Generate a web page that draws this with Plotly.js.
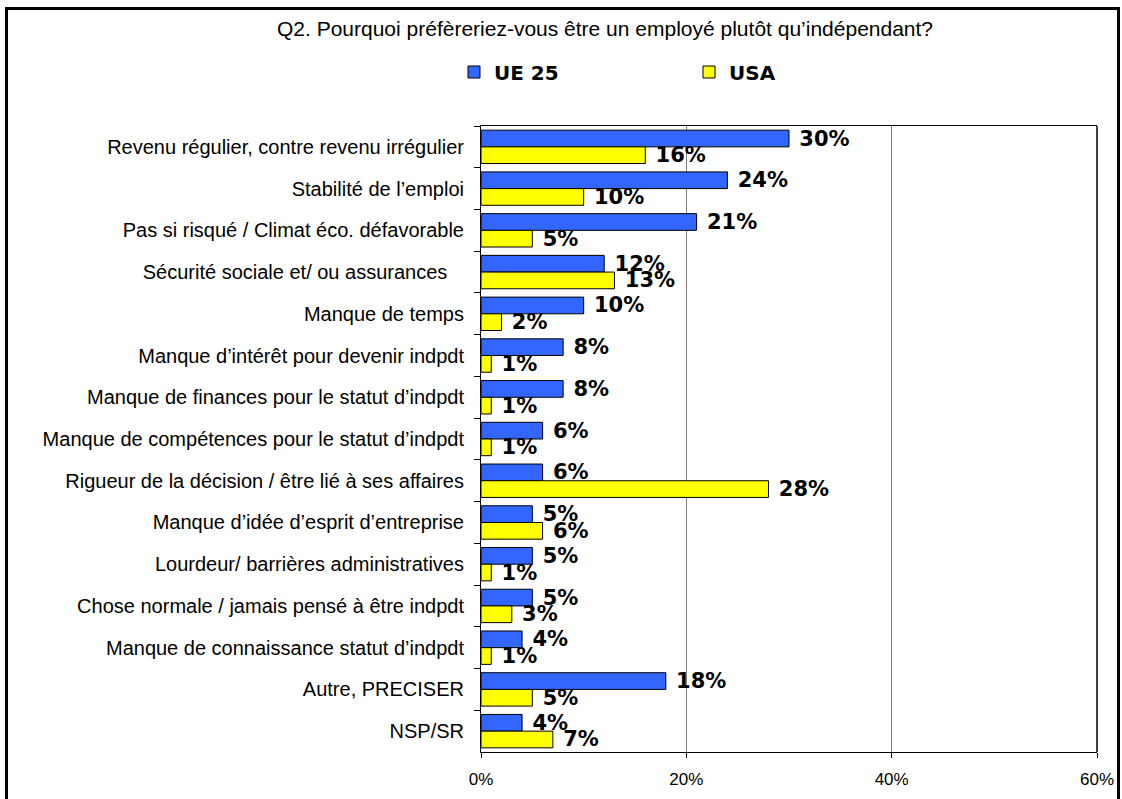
<!DOCTYPE html>
<html>
<head>
<meta charset="utf-8">
<script src="https://cdn.plot.ly/plotly-3.0.1.min.js"></script>
<style>
  html, body { margin: 0; padding: 0; background: #ffffff; }
  #chart { width: 1122px; height: 799px; }
</style>
</head>
<body>
<div id="chart"></div>
<script>
const categories = [
  "Revenu régulier, contre revenu irrégulier",
  "Stabilité de l’emploi",
  "Pas si risqué / Climat éco. défavorable",
  "Sécurité sociale et/ ou assurances\u00a0\u00a0\u00a0",
  "Manque de temps",
  "Manque d’intérêt pour devenir indpdt",
  "Manque de finances pour le statut d’indpdt",
  "Manque de compétences pour le statut d’indpdt",
  "Rigueur de la décision / être lié à ses affaires",
  "Manque d’idée d’esprit d’entreprise",
  "Lourdeur/ barrières administratives",
  "Chose normale / jamais pensé à être indpdt",
  "Manque de connaissance statut d’indpdt",
  "Autre, PRECISER",
  "NSP/SR"
];
const ue25 = [30, 24, 21, 12, 10, 8, 8, 6, 6, 5, 5, 5, 4, 18, 4];
const usa  = [16, 10, 5, 13, 2, 1, 1, 1, 28, 6, 1, 3, 1, 5, 7];
const seriesNames = ["UE 25", "USA"];
const xTicks = [0, 20, 40, 60];
const titleText = "Q2. Pourquoi préfèreriez-vous être un employé plutôt qu’indépendant?";

const labelFont = { family: "DejaVu Sans", size: 21, weight: "bold", color: "#000000" };

function barTrace(name, values, color) {
  return {
    type: "bar",
    orientation: "h",
    name: name,
    y: categories,
    x: values,
    marker: { color: color, line: { color: "#000000", width: 1 } },
    text: values.map(v => "\u00a0" + v + "%"),
    textposition: "outside",
    textfont: labelFont,
    constraintext: "none",
    cliponaxis: false,
    hoverinfo: "x+y+name"
  };
}

const data = [
  barTrace(seriesNames[0], ue25, "#3366FF"),
  barTrace(seriesNames[1], usa, "#FFFF00")
];

const layout = {
  width: 1122,
  height: 799,
  margin: { l: 481, r: 25, t: 126, b: 47, pad: 0 },
  paper_bgcolor: "#ffffff",
  plot_bgcolor: "#ffffff",
  barmode: "group",
  bargap: 0.2,
  bargroupgap: 0,
  showlegend: true,
  title: {
    text: titleText,
    font: { family: "Liberation Sans", size: 21, color: "#000000" },
    xref: "container", yref: "container",
    x: 605 / 1122, xanchor: "center",
    y: 1 - 29 / 799, yanchor: "middle"
  },
  legend: {
    orientation: "h",
    xref: "container", yref: "container",
    x: 454 / 1122, xanchor: "left",
    y: 1 - 72 / 799, yanchor: "middle",
    font: { family: "DejaVu Sans", size: 20, weight: "bold", color: "#000000" },
    itemwidth: 30,
    entrywidth: 190,
    traceorder: "normal",
    bgcolor: "rgba(0,0,0,0)"
  },
  xaxis: {
    range: [0, 60],
    tickvals: xTicks,
    ticktext: xTicks.map(v => v + "%"),
    showgrid: true,
    gridcolor: "#808080",
    gridwidth: 1,
    zeroline: false,
    showline: true,
    linecolor: "#000000",
    linewidth: 1,
    mirror: true,
    ticks: "outside",
    ticklen: 5,
    tickcolor: "#000000",
    tickfont: { family: "Liberation Sans", size: 17, color: "#000000" },
    ticklabelstandoff: 7,
    fixedrange: true
  },
  yaxis: {
    type: "category",
    autorange: "reversed",
    showgrid: false,
    zeroline: false,
    showline: true,
    linecolor: "#000000",
    linewidth: 1,
    ticks: "outside",
    tickson: "boundaries",
    ticklen: 6,
    tickcolor: "#000000",
    tickfont: { family: "Liberation Sans", size: 20, color: "#000000" },
    ticklabelstandoff: 12,
    fixedrange: true
  },
  shapes: [
    {
      type: "line", xref: "paper", yref: "paper",
      x0: 1, x1: 1, y0: 0, y1: 1,
      line: { color: "#404040", width: 2 }
    },
    {
      type: "rect", xref: "paper", yref: "paper",
      x0: (6.5 - 481) / 616, x1: (1118.5 - 481) / 616,
      y0: (752 - 830) / 626, y1: (752 - 8.5) / 626,
      line: { color: "#000000", width: 3 },
      fillcolor: "rgba(0,0,0,0)"
    }
  ]
};

Plotly.newPlot("chart", data, layout, { displayModeBar: false, staticPlot: true });
</script>
</body>
</html>
